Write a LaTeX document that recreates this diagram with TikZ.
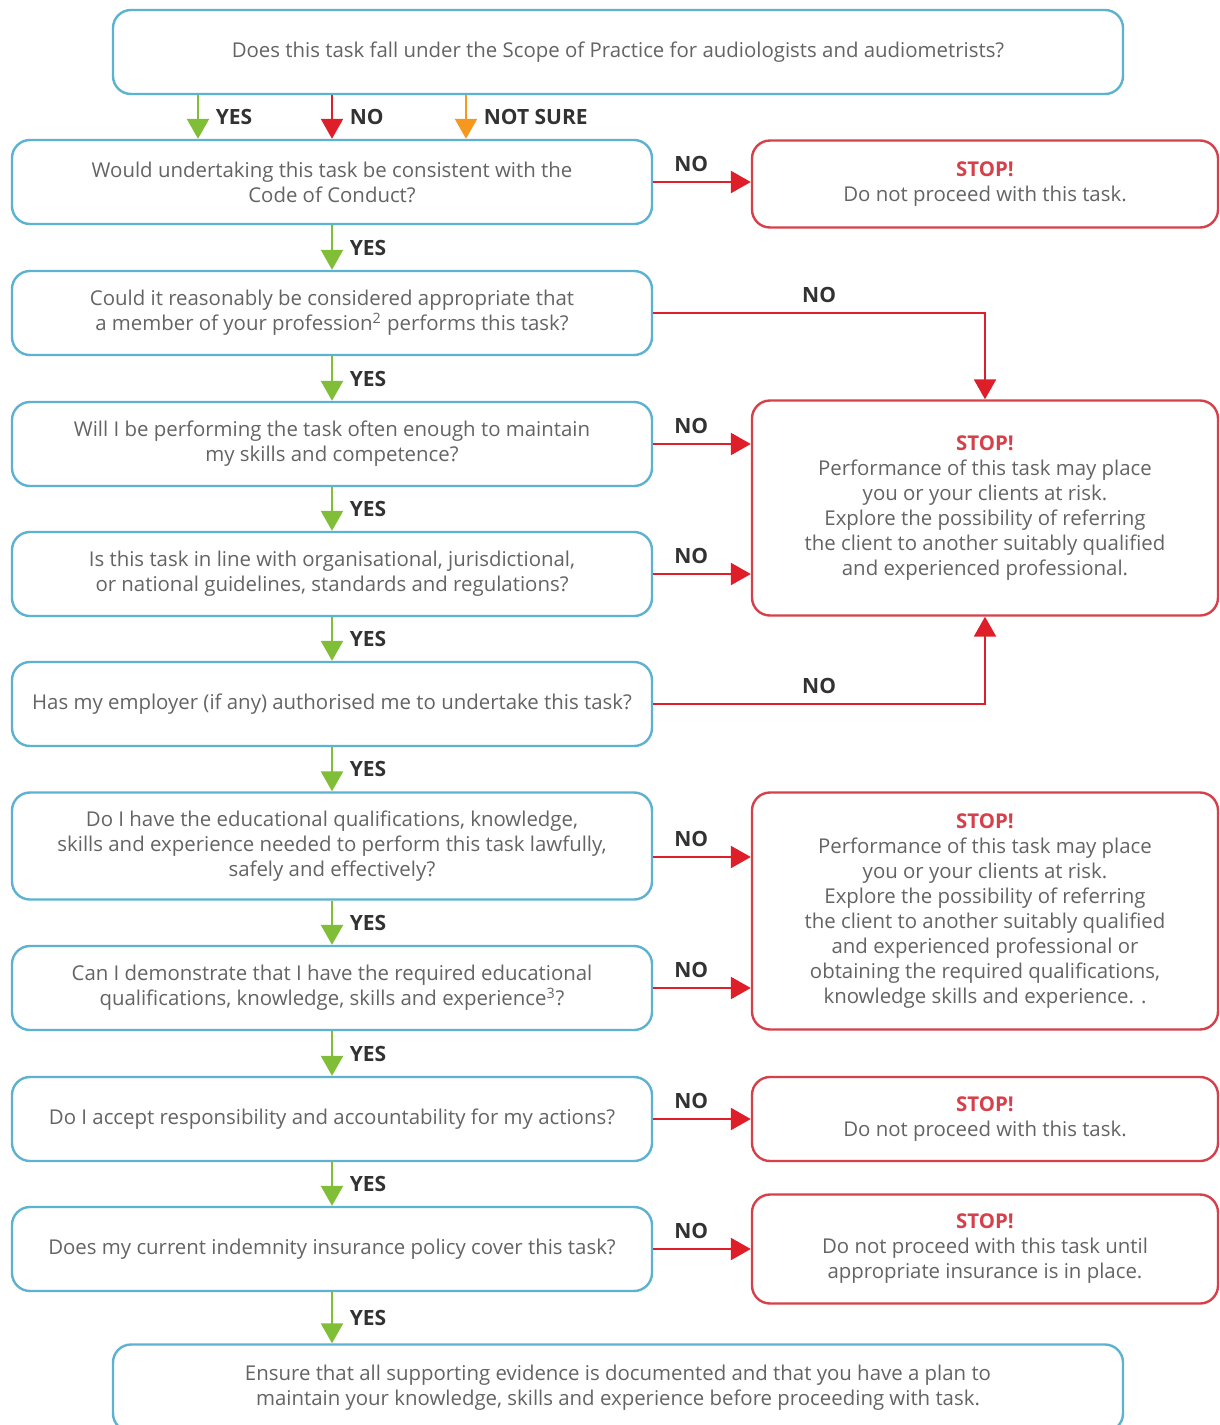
\documentclass[tikz,border=0pt]{standalone}
\usepackage{fontspec}
\setmainfont{Open Sans}
\usetikzlibrary{arrows.meta, positioning}
\definecolor{qblue}{RGB}{92,178,208}
\definecolor{stopred}{RGB}{214,64,74}
\definecolor{nored}{RGB}{222,30,40}
\definecolor{yesgreen}{RGB}{128,190,56}
\definecolor{surecol}{RGB}{246,152,32}
\definecolor{txtgray}{RGB}{100,100,100}
\definecolor{lblgray}{RGB}{50,50,50}
\newcommand{\stoptxt}{\textcolor{stopred}{\textbf{STOP!}}}
\begin{document}
\begin{tikzpicture}[x=0.5pt,y=-0.5pt]
	\tikzstyle{Question} = [rectangle, rounded corners=9pt, draw=qblue, line width=1.2pt, fill=white, minimum width=320pt, minimum height=42pt, align=center, text=txtgray, font=\fontsize{10.2}{12.5}\selectfont]
	\tikzstyle{Stop} = [Question, draw=stopred, minimum width=233pt]
	\tikzstyle{yes} = [line width=1.2pt, draw=yesgreen, -{Triangle[length=10pt,width=11pt]}, yesgreen]
	\tikzstyle{no} = [line width=1.2pt, draw=nored, -{Triangle[length=10pt,width=11pt]}, nored]
	\tikzstyle{unsure} = [line width=1.2pt, draw=surecol, -{Triangle[length=10pt,width=11pt]}, surecol]
	\tikzstyle{lbl} = [font=\bfseries\fontsize{10.5}{11}\selectfont, text=lblgray]
	
	\useasboundingbox (0,0) rectangle (1220,1425);
	
	\node (scope) [Question, minimum width=505pt] at (618,52) {Does this task fall under the Scope of Practice for audiologists and audiometrists?};
	\node (q1) [Question] at (332,182) {Would undertaking this task be consistent with the\\Code of Conduct?};
	\node (q2) [Question] at (332,313) {Could it reasonably be considered appropriate that\\a member of your profession\textsuperscript{2} performs this task?};
	\node (q3) [Question] at (332,444) {Will I be performing the task often enough to maintain\\my skills and competence?};
	\node (q4) [Question] at (332,574) {Is this task in line with organisational, jurisdictional,\\or national guidelines, standards and regulations?};
	\node (q5) [Question] at (332,704) {Has my employer (if any) authorised me to undertake this task?};
	\node (q6) [Question, minimum height=53.5pt] at (332,846) {Do I have the educational qualifications, knowledge,\\skills and experience needed to perform this task lawfully,\\safely and effectively?};
	\node (q7) [Question] at (332,988) {Can I demonstrate that I have the required educational\\qualifications, knowledge, skills and experience\textsuperscript{3}?};
	\node (q8) [Question] at (332,1119) {Do I accept responsibility and accountability for my actions?};
	\node (q9) [Question] at (332,1249) {Does my current indemnity insurance policy cover this task?};
	\node (ensure) [Question, minimum width=505pt, minimum height=43.5pt] at (618,1388) {Ensure that all supporting evidence is documented and that you have a plan to\\maintain your knowledge, skills and experience before proceeding with task.};
	
	\node (r1) [Stop, minimum height=43.5pt] at (985,184) {\stoptxt\\Do not proceed with this task.};
	\node (r2) [Stop, minimum height=107.5pt] at (985,508) {\stoptxt\\Performance of this task may place\\you or your clients at risk.\\Explore the possibility of referring\\the client to another suitably qualified\\and experienced professional.};
	\node (r3) [Stop, minimum height=118.5pt] at (985,911) {\stoptxt\\Performance of this task may place\\you or your clients at risk.\\Explore the possibility of referring\\the client to another suitably qualified\\and experienced professional or\\obtaining the required qualifications,\\knowledge skills and experience. .};
	\node (r4) [Stop] at (985,1119) {\stoptxt\\Do not proceed with this task.};
	\node (r5) [Stop, minimum height=54.5pt] at (985,1249) {\stoptxt\\Do not proceed with this task until\\appropriate insurance is in place.};
	
	% first question
	\draw [yes] ([xshift=-67pt]scope.south -| q1.north) -- ([xshift=-67pt]q1.north) node [lbl, midway, right, xshift=5pt] {YES};
	\draw [no] (scope.south -| q1.north) -- (q1.north) node [lbl, midway, right, xshift=5pt] {NO};
	\draw [unsure] ([xshift=67pt]scope.south -| q1.north) -- ([xshift=67pt]q1.north) node [lbl, midway, right, xshift=5pt] {NOT SURE};
	
	% yes, go down
	\draw [yes] (q1.south) -- (q2.north) node [lbl, midway, right, xshift=5pt] {YES};
	\draw [yes] (q2.south) -- (q3.north) node [lbl, midway, right, xshift=5pt] {YES};
	\draw [yes] (q3.south) -- (q4.north) node [lbl, midway, right, xshift=5pt] {YES};
	\draw [yes] (q4.south) -- (q5.north) node [lbl, midway, right, xshift=5pt] {YES};
	\draw [yes] (q5.south) -- (q6.north) node [lbl, midway, right, xshift=5pt] {YES};
	\draw [yes] (q6.south) -- (q7.north) node [lbl, midway, right, xshift=5pt] {YES};
	\draw [yes] (q7.south) -- (q8.north) node [lbl, midway, right, xshift=5pt] {YES};
	\draw [yes] (q8.south) -- (q9.north) node [lbl, midway, right, xshift=5pt] {YES};
	\draw [yes] (q9.south) -- (q9.south |- ensure.north) node [lbl, midway, right, xshift=5pt] {YES};
	
	% no, stop
	\draw [no] (q1.east) -- (q1.east -| r1.west) node [lbl, pos=0.39, above, yshift=1pt] {NO};
	\draw [no] (q2.east) -- (q2.east -| r2.north) node [lbl, midway, above, yshift=1pt] {NO} -- (r2.north);
	\draw [no] (q3.east) -- (q3.east -| r2.west) node [lbl, pos=0.39, above, yshift=1pt] {NO};
	\draw [no] (q4.east) -- (q4.east -| r2.west) node [lbl, pos=0.39, above, yshift=1pt] {NO};
	\draw [no] (q5.east) -- (q5.east -| r2.south) node [lbl, midway, above, yshift=1pt] {NO} -- (r2.south);
	\draw [no] ([yshift=-5.5pt]q6.east) -- ([yshift=-5.5pt]q6.east -| r3.west) node [lbl, pos=0.39, above, yshift=1pt] {NO};
	\draw [no] (q7.east) -- (q7.east -| r3.west) node [lbl, pos=0.39, above, yshift=1pt] {NO};
	\draw [no] (q8.east) -- (q8.east -| r4.west) node [lbl, pos=0.39, above, yshift=1pt] {NO};
	\draw [no] (q9.east) -- (q9.east -| r5.west) node [lbl, pos=0.39, above, yshift=1pt] {NO};
\end{tikzpicture}
\end{document}
